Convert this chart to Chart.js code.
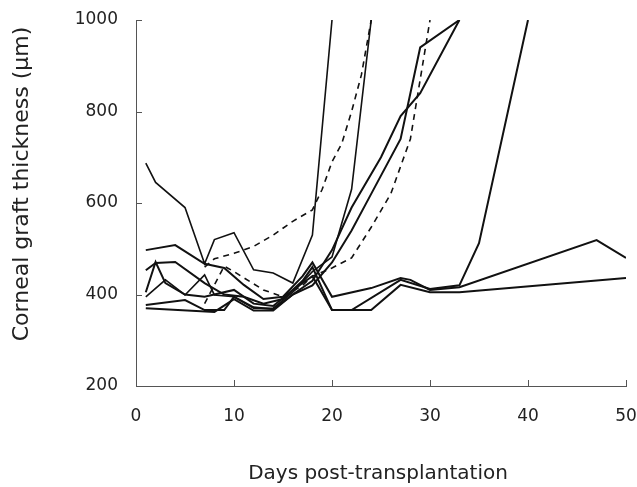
<!DOCTYPE html>
<html>
<head>
<meta charset="utf-8">
<script src="https://cdn.jsdelivr.net/npm/chart.js@4"></script>
<style>
  html, body { margin: 0; padding: 0; background: #fff; }
  #wrap { width: 637px; height: 487px; }
</style>
</head>
<body>
<div id="wrap"><canvas id="graftChart" width="637" height="487"></canvas></div>
<script>
// Graft thickness per eye (days, µm)
const daysA = [1, 2, 5, 7, 8, 10, 12, 14, 16, 18, 20];
const valsA = [687, 645, 590, 467, 520, 535, 454, 447, 425, 530, 1000];

const daysB = [1, 3, 5, 7, 8, 10, 12, 14, 16, 18, 20, 22, 24];
const valsB = [395, 432, 399, 443, 399, 395, 370, 370, 405, 450, 482, 630, 1000];

const daysC = [1, 8, 10, 12, 14, 16, 18, 20, 22, 24, 27, 29, 33];
const valsC = [370, 362, 390, 365, 365, 400, 420, 470, 540, 620, 740, 940, 1000];

const daysD = [1, 5, 7, 9, 10, 12, 14, 16, 18, 20, 22, 25, 27, 29, 33];
const valsD = [377, 388, 366, 366, 395, 372, 368, 400, 430, 497, 590, 700, 790, 840, 1000];

const daysE = [1, 2, 4, 7, 9, 11, 13, 15, 17, 18, 20, 22, 27, 30, 33, 35, 40];
const valsE = [453, 469, 471, 425, 400, 395, 380, 390, 430, 460, 366, 366, 432, 412, 420, 512, 1000];

const daysF = [1, 4, 7, 9, 11, 13, 15, 17, 18, 20, 24, 27, 28, 30, 33, 47, 50];
const valsF = [497, 508, 467, 458, 421, 390, 395, 440, 470, 395, 414, 436, 432, 410, 416, 519, 480];

const daysG = [1, 2, 3, 5, 7, 10, 12, 14, 16, 18, 20, 24, 27, 30, 33, 50];
const valsG = [405, 471, 425, 400, 395, 410, 380, 375, 410, 440, 366, 366, 421, 405, 405, 436];

// dashed eyes
const daysH = [7, 8, 10, 12, 14, 16, 18, 19, 20, 21, 22, 23, 24];
const valsH = [460, 478, 490, 505, 530, 560, 585, 630, 690, 730, 800, 880, 1000];

const daysI = [7, 9, 10, 13, 15, 17, 18, 20, 22, 24, 26, 28, 30];
const valsI = [380, 462, 450, 410, 395, 420, 440, 458, 480, 547, 620, 740, 1000];

const xTicks = [0, 10, 20, 30, 40, 50];
const yTicks = [200, 400, 600, 800, 1000];

const toPoints = (days, vals) => days.map((d, i) => ({ x: d, y: vals[i] }));

function line(days, vals, dashed, width) {
    return {
        data: toPoints(days, vals),
        borderColor: '#111',
        borderWidth: width || 2,
        borderDash: dashed ? [6, 5] : [],
        pointRadius: 0,
        fill: false,
        tension: 0
    };
}

// inward tick marks and axis titles
const axisExtras = {
    id: 'axisExtras',
    afterDraw(chart) {
        const ctx = chart.ctx;
        const xs = chart.scales.x, ys = chart.scales.y;
        const area = chart.chartArea;
        ctx.save();
        ctx.strokeStyle = '#555';
        ctx.lineWidth = 1;
        ctx.beginPath();
        xTicks.forEach(t => {
            const px = Math.round(xs.getPixelForValue(t)) + 0.5;
            ctx.moveTo(px, area.bottom);
            ctx.lineTo(px, area.bottom - 6);
        });
        yTicks.forEach(t => {
            const py = Math.round(ys.getPixelForValue(t)) + 0.5;
            ctx.moveTo(area.left, py);
            ctx.lineTo(area.left + 6, py);
        });
        ctx.stroke();

        ctx.fillStyle = '#222';
        ctx.textAlign = 'center';
        ctx.textBaseline = 'middle';
        ctx.font = '20px "DejaVu Sans"';
        ctx.fillText('Days post-transplantation', 378, 474);
        ctx.translate(22, 184);
        ctx.rotate(-Math.PI / 2);
        ctx.font = '22px "DejaVu Sans"';
        ctx.fillText('Corneal graft thickness (µm)', 0, 0);
        ctx.restore();
    }
};

new Chart(document.getElementById('graftChart'), {
    type: 'line',
    data: {
        datasets: [
            line(daysA, valsA, false, 1.6),
            line(daysB, valsB, false, 1.6),
            line(daysC, valsC),
            line(daysD, valsD),
            line(daysE, valsE),
            line(daysF, valsF),
            line(daysG, valsG),
            line(daysH, valsH, true, 1.6),
            line(daysI, valsI, true, 1.6)
        ]
    },
    options: {
        responsive: false,
        animation: false,
        layout: { padding: { top: 20, right: 11, left: 0, bottom: 0 } },
        plugins: {
            legend: { display: false },
            tooltip: { enabled: false }
        },
        scales: {
            x: {
                type: 'linear',
                min: 0,
                max: 50,
                afterFit(scale) {
                    scale.height = 101;
                    scale.paddingLeft = 0;
                    scale.paddingRight = 0;
                },
                afterBuildTicks(scale) { scale.ticks = xTicks.map(v => ({ value: v })); },
                border: { display: true, color: '#555', width: 1 },
                grid: { display: false, drawTicks: false },
                ticks: {
                    padding: 20,
                    color: '#222',
                    font: { family: 'DejaVu Sans', size: 17 },
                    maxRotation: 0,
                    callback: v => String(v)
                }
            },
            y: {
                min: 200,
                max: 1000,
                afterFit(scale) {
                    scale.width = 136;
                    scale.paddingTop = 0;
                    scale.paddingBottom = 0;
                },
                afterBuildTicks(scale) { scale.ticks = yTicks.map(v => ({ value: v })); },
                border: { display: true, color: '#555', width: 1 },
                grid: { display: false, drawTicks: false },
                ticks: {
                    padding: 18,
                    color: '#222',
                    font: { family: 'DejaVu Sans', size: 17 },
                    callback: v => String(v)
                }
            }
        }
    },
    plugins: [axisExtras]
});
</script>
</body>
</html>
